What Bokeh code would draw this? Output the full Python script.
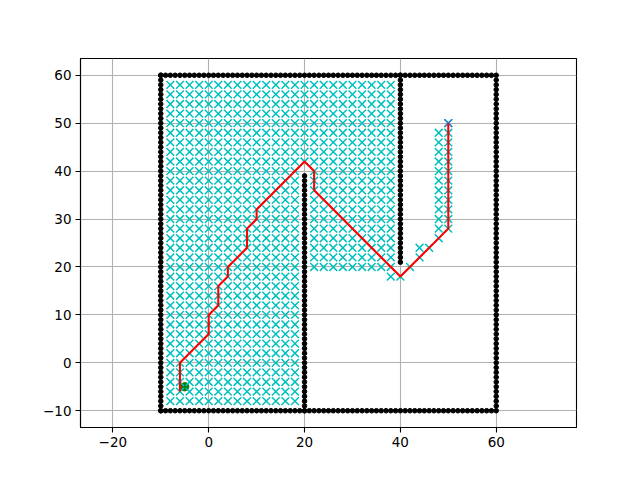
from bokeh.plotting import figure
from bokeh.embed import file_html
from bokeh.resources import INLINE
from bokeh.models import FixedTicker, Range1d

# ---- data ----
# obstacle walls: (x_start, x_end, y_start, y_end), sampled every 1 unit
wall_x0 = [-10, 60, -10, -10, 20, 40]
wall_x1 = [59, 60, 60, -10, 20, 40]
wall_y0 = [-10, -10, 60, -10, -10, 21]
wall_y1 = [-10, 59, 60, 60, 39, 60]

# explored (closed-set) grid nodes, grid resolution 2: per column y-range
explored_col_x = [-8, -6, -4, -2, 0, 2, 4, 6, 8, 10, 12, 14, 16, 18,
                  20, 22, 24, 26, 28, 30, 32, 34, 36, 38, 40, 42, 44, 46, 48, 50]
explored_y_lo = [-8] * 14 + [42, 20, 20, 20, 20, 20, 20, 20, 20, 18, 18, 20, 22, 24, 26, 28]
explored_y_hi = [58] * 14 + [58, 58, 58, 58, 58, 58, 58, 58, 58, 58, 18, 20, 24, 24, 48, 50]

# final path
path_x = [-6, -6, 0, 0, 2, 2, 4, 4, 8, 8, 10, 10, 20, 22, 22, 40, 50, 50]
path_y = [-6, 0, 6, 10, 12, 16, 18, 20, 24, 28, 30, 32, 42, 40, 36, 18, 28, 50]

start_x, start_y = [-5], [-5]
goal_x, goal_y = [50], [50]

x_ticks = [-20, 0, 20, 40, 60]
y_ticks = [-10, 0, 10, 20, 30, 40, 50, 60]

# ---- expand grids ----
ox, oy = [], []
for x0, x1, y0, y1 in zip(wall_x0, wall_x1, wall_y0, wall_y1):
    if x0 == x1:
        for y in range(y0, y1 + 1):
            ox.append(x0); oy.append(y)
    else:
        for x in range(x0, x1 + 1):
            ox.append(x); oy.append(y0)

ex, ey = [], []
for x, lo, hi in zip(explored_col_x, explored_y_lo, explored_y_hi):
    for y in range(lo, hi + 1, 2):
        ex.append(x); ey.append(y)

p = figure(width=632, height=472, output_backend="svg", toolbar_location=None,
           x_range=Range1d(-26.75, 76.75), y_range=Range1d(-13.5, 63.5),
           min_border_left=80, min_border_right=56, min_border_top=58, min_border_bottom=45)

p.outline_line_color = "black"
p.outline_line_width = 1.1
p.background_fill_color = "white"
p.border_fill_color = "white"

for ax in (p.xaxis[0], p.yaxis[0]):
    ax.axis_line_color = "black"
    ax.axis_line_width = 1.1
    ax.major_tick_out = 5
    ax.major_tick_in = 0
    ax.minor_tick_out = 0
    ax.minor_tick_in = 0
    ax.major_tick_line_width = 1.1
    ax.major_label_text_font = "DejaVu Sans"
    ax.major_label_text_font_size = "13.5px"
    ax.major_label_text_color = "black"
    ax.major_label_standoff = 4

p.xaxis.ticker = FixedTicker(ticks=x_ticks)
p.yaxis.ticker = FixedTicker(ticks=y_ticks)
p.xaxis.major_label_overrides = {t: str(t).replace("-", "\u2212") for t in x_ticks}
p.yaxis.major_label_overrides = {t: str(t).replace("-", "\u2212") for t in y_ticks}

p.xgrid.ticker = FixedTicker(ticks=x_ticks)
p.ygrid.ticker = FixedTicker(ticks=y_ticks)
for g in (p.xgrid[0], p.ygrid[0]):
    g.grid_line_color = "#b0b0b0"
    g.grid_line_width = 1.1

# obstacles
p.scatter(ox, oy, marker="circle", size=4.6, color="black", line_color="black")
# start
p.scatter(start_x, start_y, marker="circle", size=8.3, fill_color="#008000", line_color="#008000")
# explored
p.scatter(ex, ey, marker="x", size=11, line_color="#00bfbf", line_width=1.5)
# goal
p.scatter(goal_x, goal_y, marker="x", size=11, line_color="#2f7fd6", line_width=1.5)
# path
p.line(path_x, path_y, line_color="#ff0000", line_width=2.1)

open("out.html", "w").write(file_html(p, INLINE))
